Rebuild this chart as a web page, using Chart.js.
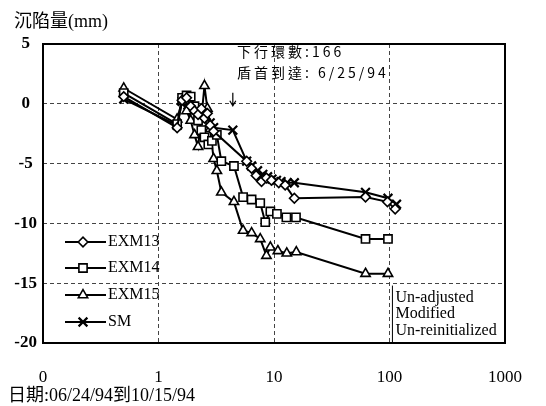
<!DOCTYPE html>
<html><head><meta charset="utf-8">
<script src="https://cdn.jsdelivr.net/npm/chart.js@4/dist/chart.umd.min.js"></script>
<style>html,body{margin:0;padding:0;background:#fff;}#wrap{width:546px;height:406px;}</style>
</head><body><div id="wrap"><canvas id="c" width="546" height="406"></canvas></div>
<script>
const xTickValues = [0.1, 1, 10, 100, 1000];
const xTickLabels = ['0', '1', '10', '100', '1000'];
const yTickValues = [5, 0, -5, -10, -15, -20];

const seriesNames = ['EXM13', 'EXM14', 'EXM15', 'SM'];
const seriesStyles = ['rectRot', 'rect', 'triangle', 'crossRot'];

const exm13X = [0.5, 1.45, 1.6, 1.75, 1.9, 2.05, 2.2, 2.35, 2.5, 2.65, 2.8, 3.0, 5.8, 6.4, 7.0, 7.8, 8.6, 9.5, 11, 12.5, 15, 62, 96, 112];
const exm13Y = [0.6, -2.0, 0.3, 0.5, -0.2, -0.6, -0.9, -0.4, -1.2, -0.8, -1.8, -2.3, -4.8, -5.4, -6.0, -6.5, -6.2, -6.4, -6.6, -6.8, -7.9, -7.8, -8.2, -8.8];

const exm14X = [0.5, 1.45, 1.6, 1.75, 1.9, 2.05, 2.2, 2.35, 2.5, 2.7, 2.9, 3.2, 3.5, 4.5, 5.4, 6.4, 7.6, 8.4, 9.3, 10.6, 12.8, 15.5, 62, 97];
const exm14Y = [0.9, -1.7, 0.5, 0.7, 0.6, -0.2, -1.4, -2.2, -2.8, -3.4, -3.1, -2.6, -4.8, -5.2, -7.8, -8.0, -8.3, -9.9, -9.0, -9.2, -9.5, -9.5, -11.3, -11.3];

const exm15X = [0.5, 1.45, 1.6, 1.75, 1.9, 2.05, 2.2, 2.35, 2.5, 2.65, 2.8, 3.0, 3.2, 3.5, 4.5, 5.4, 6.4, 7.6, 8.6, 9.3, 10.8, 12.9, 15.6, 62, 97];
const exm15Y = [1.3, -1.3, 0.2, -0.6, -1.4, -2.6, -3.6, -1.2, 1.5, -0.4, -2.1, -4.6, -5.6, -7.4, -8.2, -10.6, -10.8, -11.3, -12.7, -12.0, -12.3, -12.5, -12.4, -14.2, -14.2];

const smX = [0.5, 1.45, 1.6, 1.8, 2.0, 2.2, 2.4, 2.6, 2.8, 3.0, 4.4, 5.8, 6.4, 7.2, 8.0, 8.8, 9.6, 10.5, 11.5, 13, 15, 62, 97, 115];
const smY = [0.4, -1.8, 0.2, -0.1, -0.6, -0.9, -1.3, -1.0, -1.6, -2.0, -2.2, -4.8, -5.2, -5.6, -5.9, -6.1, -6.3, -6.4, -6.5, -6.6, -6.6, -7.4, -7.9, -8.4];

const yTitle = '沉陷量(mm)';
const xTitle = '日期:06/24/94到10/15/94';
const annotationLines = ['下行環數:166', '盾首到達: 6/25/94'];
const noteLines = ['Un-adjusted', 'Modified', 'Un-reinitialized'];

const SERIF = '"Liberation Serif", "Noto Sans CJK TC", serif';
const CJK = '"Noto Sans CJK TC", "Liberation Serif", serif';

function pts(xs, ys) { return xs.map((v, i) => ({x: v, y: ys[i]})); }
const allX = [exm13X, exm14X, exm15X, smX];
const allY = [exm13Y, exm14Y, exm15Y, smY];
const radii = [4.8, 5.8, 5.4, 6.2];

const datasets = seriesNames.map((n, i) => ({
  label: n,
  data: pts(allX[i], allY[i]),
  showLine: true,
  borderColor: '#000',
  borderWidth: 2,
  pointStyle: seriesStyles[i],
  pointRadius: radii[i],
  pointBackgroundColor: '#fff',
  pointBorderColor: '#000',
  pointBorderWidth: i === 3 ? 2.2 : 1.6,
  pointHoverRadius: radii[i],
  tension: 0
}));

function drawMarker(ctx, style, r, x, y, bw) {
  ctx.save();
  ctx.fillStyle = '#fff'; ctx.strokeStyle = '#000'; ctx.lineWidth = bw;
  if (Chart.helpers && Chart.helpers.drawPoint) {
    Chart.helpers.drawPoint(ctx, {pointStyle: style, radius: r, rotation: 0, borderWidth: bw}, x, y);
  }
  ctx.restore();
}

const decor = {
  id: 'decor',
  afterDraw(chart) {
    const {ctx, chartArea: a, scales} = chart;
    const xs = scales.x, ys = scales.y;
    ctx.save();
    ctx.strokeStyle = '#000'; ctx.lineWidth = 2; ctx.setLineDash([]);
    ctx.strokeRect(a.left, a.top, a.right - a.left, a.bottom - a.top);
    ctx.fillStyle = '#000';
    ctx.textBaseline = 'middle'; ctx.textAlign = 'left';
    ctx.font = '18px ' + SERIF;
    ctx.fillText(yTitle, 14, 22);
    ctx.fillText(xTitle, 8, 396);
    ctx.font = '14px ' + CJK;
    try { ctx.letterSpacing = '3px'; } catch (e) {}
    ctx.fillText(annotationLines[0], 237, 52);
    ctx.fillText(annotationLines[1], 237, 73);
    try { ctx.letterSpacing = '0px'; } catch (e) {}
    const ax = xs.getPixelForValue(4.4);
    const ay = ys.getPixelForValue(0);
    ctx.lineWidth = 1.2;
    ctx.beginPath();
    ctx.moveTo(ax, ay - 11); ctx.lineTo(ax, ay + 2);
    ctx.moveTo(ax - 3, ay - 3); ctx.lineTo(ax, ay + 2); ctx.lineTo(ax + 3, ay - 3);
    ctx.stroke();
    ctx.font = '16px ' + SERIF;
    const rowY = [a.top + 198, a.top + 224, a.top + 251, a.top + 278];
    seriesNames.forEach((n, i) => {
      const y = rowY[i];
      ctx.strokeStyle = '#000'; ctx.lineWidth = 2;
      ctx.beginPath(); ctx.moveTo(a.left + 22, y); ctx.lineTo(a.left + 63, y); ctx.stroke();
      drawMarker(ctx, seriesStyles[i], radii[i], a.left + 40, y, i === 3 ? 2.2 : 1.6);
      ctx.fillStyle = '#000';
      ctx.fillText(n, a.left + 65, y);
    });
    const bx = xs.getPixelForValue(106);
    const btop = ys.getPixelForValue(-15.2);
    ctx.lineWidth = 1;
    ctx.beginPath(); ctx.moveTo(bx, btop); ctx.lineTo(bx, a.bottom); ctx.stroke();
    ctx.font = '16px ' + SERIF;
    noteLines.forEach((t, i) => ctx.fillText(t, bx + 3, btop + 12 + i * 16.5));
    ctx.restore();
  }
};

new Chart(document.getElementById('c'), {
  type: 'scatter',
  data: {datasets},
  options: {
    responsive: false,
    animation: false,
    devicePixelRatio: 1,
    layout: {padding: {left: 0, right: 22, top: 44, bottom: 0}},
    plugins: {legend: {display: false}, tooltip: {enabled: false}, title: {display: false}},
    scales: {
      x: {
        type: 'logarithmic',
        min: 0.1, max: 1000,
        afterBuildTicks: s => { s.ticks = xTickValues.map(v => ({value: v})); },
        afterFit: s => { s.height = 63; },
        border: {display: false, dash: [4, 3]},
        grid: {
          drawTicks: false,
          color: c => (c.tick && (c.tick.value === 0.1 || c.tick.value === 1000)) ? 'rgba(0,0,0,0)' : '#444',
          lineWidth: 1
        },
        ticks: {
          autoSkip: false, maxRotation: 0, padding: 24, color: '#000',
          font: {family: SERIF, size: 17},
          callback: (v) => { const i = xTickValues.findIndex(t => Math.abs(t - v) < 1e-9); return i >= 0 ? xTickLabels[i] : ''; }
        }
      },
      y: {
        min: -20, max: 5,
        afterBuildTicks: s => { s.ticks = yTickValues.map(v => ({value: v})); },
        afterFit: s => { s.width = 43; },
        border: {display: false, dash: [4, 3]},
        grid: {
          drawTicks: false,
          color: c => (c.tick && (c.tick.value === 5 || c.tick.value === -20)) ? 'rgba(0,0,0,0)' : '#444',
          lineWidth: 1
        },
        ticks: {
          padding: 6, color: '#000', crossAlign: 'center',
          font: {family: SERIF, size: 17, weight: 'bold'},
          callback: v => String(v)
        }
      }
    }
  },
  plugins: [decor]
});
</script>
</body></html>
